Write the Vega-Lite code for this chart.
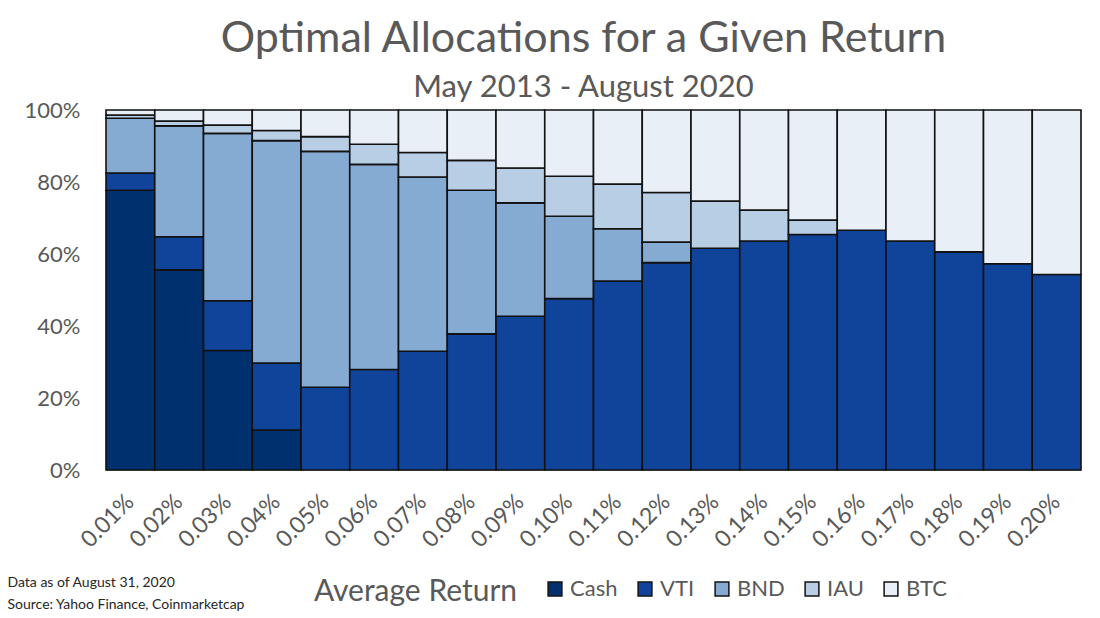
{
  "$schema": "https://vega.github.io/schema/vega-lite/v6.json",
  "autosize": "none",
  "width": 975,
  "height": 360,
  "padding": {"left": 106, "top": 110, "right": 19, "bottom": 148},
  "background": "white",
  "title": {
    "text": "Optimal Allocations for a Given Return",
    "subtitle": "May 2013 - August 2020",
    "anchor": "middle",
    "dx": -10,
    "font": "Lato",
    "fontSize": 43,
    "fontWeight": "normal",
    "color": "#595959",
    "subtitleFont": "Lato",
    "subtitleFontSize": 31,
    "subtitleColor": "#595959",
    "subtitlePadding": 12,
    "offset": -4
  },
  "data": {
    "values": [
      {"ret": "0.01%", "asset": "Cash", "pct": 77.7},
      {"ret": "0.01%", "asset": "VTI", "pct": 4.8},
      {"ret": "0.01%", "asset": "BND", "pct": 15.2},
      {"ret": "0.01%", "asset": "IAU", "pct": 0.9},
      {"ret": "0.01%", "asset": "BTC", "pct": 1.4},
      {"ret": "0.02%", "asset": "Cash", "pct": 55.6},
      {"ret": "0.02%", "asset": "VTI", "pct": 9.2},
      {"ret": "0.02%", "asset": "BND", "pct": 30.8},
      {"ret": "0.02%", "asset": "IAU", "pct": 1.3},
      {"ret": "0.02%", "asset": "BTC", "pct": 3.1},
      {"ret": "0.03%", "asset": "Cash", "pct": 33.2},
      {"ret": "0.03%", "asset": "VTI", "pct": 13.8},
      {"ret": "0.03%", "asset": "BND", "pct": 46.5},
      {"ret": "0.03%", "asset": "IAU", "pct": 2.3},
      {"ret": "0.03%", "asset": "BTC", "pct": 4.2},
      {"ret": "0.04%", "asset": "Cash", "pct": 11.1},
      {"ret": "0.04%", "asset": "VTI", "pct": 18.6},
      {"ret": "0.04%", "asset": "BND", "pct": 61.8},
      {"ret": "0.04%", "asset": "IAU", "pct": 2.8},
      {"ret": "0.04%", "asset": "BTC", "pct": 5.7},
      {"ret": "0.05%", "asset": "VTI", "pct": 23.0},
      {"ret": "0.05%", "asset": "BND", "pct": 65.5},
      {"ret": "0.05%", "asset": "IAU", "pct": 4.1},
      {"ret": "0.05%", "asset": "BTC", "pct": 7.4},
      {"ret": "0.06%", "asset": "VTI", "pct": 27.9},
      {"ret": "0.06%", "asset": "BND", "pct": 57.0},
      {"ret": "0.06%", "asset": "IAU", "pct": 5.6},
      {"ret": "0.06%", "asset": "BTC", "pct": 9.5},
      {"ret": "0.07%", "asset": "VTI", "pct": 33.0},
      {"ret": "0.07%", "asset": "BND", "pct": 48.4},
      {"ret": "0.07%", "asset": "IAU", "pct": 6.8},
      {"ret": "0.07%", "asset": "BTC", "pct": 11.8},
      {"ret": "0.08%", "asset": "VTI", "pct": 37.8},
      {"ret": "0.08%", "asset": "BND", "pct": 39.9},
      {"ret": "0.08%", "asset": "IAU", "pct": 8.3},
      {"ret": "0.08%", "asset": "BTC", "pct": 14.0},
      {"ret": "0.09%", "asset": "VTI", "pct": 42.7},
      {"ret": "0.09%", "asset": "BND", "pct": 31.5},
      {"ret": "0.09%", "asset": "IAU", "pct": 9.7},
      {"ret": "0.09%", "asset": "BTC", "pct": 16.1},
      {"ret": "0.10%", "asset": "VTI", "pct": 47.6},
      {"ret": "0.10%", "asset": "BND", "pct": 22.9},
      {"ret": "0.10%", "asset": "IAU", "pct": 11.1},
      {"ret": "0.10%", "asset": "BTC", "pct": 18.4},
      {"ret": "0.11%", "asset": "VTI", "pct": 52.5},
      {"ret": "0.11%", "asset": "BND", "pct": 14.5},
      {"ret": "0.11%", "asset": "IAU", "pct": 12.4},
      {"ret": "0.11%", "asset": "BTC", "pct": 20.6},
      {"ret": "0.12%", "asset": "VTI", "pct": 57.6},
      {"ret": "0.12%", "asset": "BND", "pct": 5.7},
      {"ret": "0.12%", "asset": "IAU", "pct": 13.8},
      {"ret": "0.12%", "asset": "BTC", "pct": 22.9},
      {"ret": "0.13%", "asset": "VTI", "pct": 61.6},
      {"ret": "0.13%", "asset": "IAU", "pct": 13.1},
      {"ret": "0.13%", "asset": "BTC", "pct": 25.3},
      {"ret": "0.14%", "asset": "VTI", "pct": 63.6},
      {"ret": "0.14%", "asset": "IAU", "pct": 8.6},
      {"ret": "0.14%", "asset": "BTC", "pct": 27.8},
      {"ret": "0.15%", "asset": "VTI", "pct": 65.4},
      {"ret": "0.15%", "asset": "IAU", "pct": 4.0},
      {"ret": "0.15%", "asset": "BTC", "pct": 30.6},
      {"ret": "0.16%", "asset": "VTI", "pct": 66.6},
      {"ret": "0.16%", "asset": "BTC", "pct": 33.4},
      {"ret": "0.17%", "asset": "VTI", "pct": 63.6},
      {"ret": "0.17%", "asset": "BTC", "pct": 36.4},
      {"ret": "0.18%", "asset": "VTI", "pct": 60.6},
      {"ret": "0.18%", "asset": "BTC", "pct": 39.4},
      {"ret": "0.19%", "asset": "VTI", "pct": 57.3},
      {"ret": "0.19%", "asset": "BTC", "pct": 42.7},
      {"ret": "0.20%", "asset": "VTI", "pct": 54.3},
      {"ret": "0.20%", "asset": "BTC", "pct": 45.7}
    ]
  },
  "transform": [
    {"calculate": "indexof(['Cash', 'VTI', 'BND', 'IAU', 'BTC'], datum.asset)", "as": "stackOrder"}
  ],
  "mark": {"type": "bar", "stroke": "#111111", "strokeWidth": 1.6},
  "encoding": {
    "x": {
      "field": "ret",
      "type": "ordinal",
      "scale": {"paddingInner": 0, "paddingOuter": 0},
      "axis": {
        "title": "Average Return",
        "titleX": 309,
        "titleY": 121,
        "titleAlign": "center",
        "titleBaseline": "middle",
        "titleFontSize": 30,
        "labelAngle": -45,
        "labelAlign": "right",
        "labelBaseline": "middle",
        "labelPadding": 28,
        "labelFontSize": 23,
        "ticks": false,
        "domain": false
      }
    },
    "y": {
      "field": "pct",
      "type": "quantitative",
      "stack": "zero",
      "scale": {"domain": [0, 100]},
      "axis": {
        "values": [0, 20, 40, 60, 80, 100],
        "labelExpr": "datum.value + '%'",
        "labelFontSize": 22,
        "labelPadding": 26,
        "ticks": false,
        "domain": false,
        "grid": true,
        "gridColor": "#a6a6a6",
        "title": ["Data as of August 31, 2020", "Source: Yahoo Finance, Coinmarketcap"],
        "titleAngle": 0,
        "titleX": -99,
        "titleY": 472,
        "titleAlign": "left",
        "titleBaseline": "middle",
        "titleFontSize": 14,
        "titleFontWeight": "normal",
        "titleColor": "#262626",
        "titleLineHeight": 22
      }
    },
    "order": {"field": "stackOrder", "type": "quantitative", "sort": "ascending"},
    "color": {
      "field": "asset",
      "type": "nominal",
      "sort": ["Cash", "VTI", "BND", "IAU", "BTC"],
      "scale": {
        "domain": ["Cash", "VTI", "BND", "IAU", "BTC"],
        "range": ["#00306e", "#10449a", "#86abd3", "#b8cee5", "#e8eff7"]
      },
      "legend": {
        "title": null,
        "orient": "none",
        "direction": "horizontal",
        "legendX": 438,
        "legendY": 468,
        "symbolType": "square",
        "symbolSize": 190,
        "symbolStrokeColor": "#111111",
        "symbolStrokeWidth": 1.5,
        "symbolOpacity": 1,
        "labelFontSize": 22,
        "labelOffset": 4,
        "columnPadding": 16
      }
    }
  },
  "config": {
    "font": "Lato",
    "view": {"stroke": null},
    "axis": {
      "labelColor": "#595959",
      "titleColor": "#595959",
      "titleFontWeight": "normal",
      "labelFont": "Lato",
      "titleFont": "Lato"
    },
    "legend": {"labelColor": "#595959", "labelFont": "Lato"}
  }
}
